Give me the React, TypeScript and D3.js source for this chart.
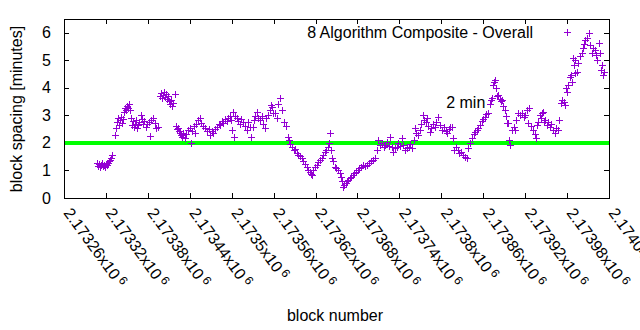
import React from 'react';
import * as d3 from 'd3';

const blockNumbers = [
  2173307,2173309,2173310,2173312,2173313,2173314,2173316,2173317,2173319,2173320,
  2173322,2173323,2173324,2173326,2173327,2173329,2173333,2173334,2173336,2173337,
  2173339,2173340,2173342,2173343,2173344,2173346,2173347,2173349,2173350,2173352,
  2173353,2173354,2173356,2173357,2173359,2173360,2173362,2173363,2173364,2173366,
  2173367,2173370,2173372,2173373,2173374,2173377,2173379,2173382,2173383,2173384,
  2173387,2173390,2173392,2173395,2173397,2173399,2173400,2173402,2173403,2173405,
  2173406,2173407,2173409,2173410,2173412,2173413,2173415,2173416,2173419,2173420,
  2173422,2173423,2173425,2173426,2173427,2173429,2173430,2173433,2173435,2173437,
  2173440,2173442,2173443,2173446,2173447,2173449,2173452,2173455,2173456,2173459,
  2173462,2173465,2173467,2173469,2173472,2173473,2173476,2173479,2173482,2173483,
  2173486,2173488,2173490,2173493,2173495,2173498,2173499,2173502,2173501,2173503,
  2173505,2173508,2173509,2173512,2173513,2173516,2173519,2173522,2173523,2173526,
  2173528,2173530,2173532,2173533,2173536,2173538,2173540,2173543,2173545,2173548,
  2173549,2173552,2173555,2173556,2173558,2173559,2173562,2173565,2173566,2173569,
  2173572,2173575,2173578,2173581,2173582,2173583,2173586,2173589,2173591,2173593,
  2173595,2173598,2173601,2173602,2173605,2173608,2173609,2173612,2173613,2173615,
  2173616,2173619,2173622,2173623,2173626,2173629,2173631,2173633,2173635,2173638,
  2173639,2173641,2173642,2173643,2173645,2173648,2173649,2173652,2173655,2173656,
  2173658,2173659,2173661,2173664,2173665,2173666,2173669,2173671,2173674,2173675,
  2173678,2173681,2173682,2173685,2173688,2173691,2173694,2173696,2173699,2173702,
  2173705,2173708,2173709,2173712,2173715,2173718,2173719,2173722,2173725,2173727,
  2173729,2173731,2173734,2173737,2173738,2173741,2173744,2173745,2173748,2173751,
  2173754,2173755,2173758,2173761,2173762,2173764,2173767,2173769,2173771,2173774,
  2173775,2173778,2173779,2173781,2173784,2173785,2173788,2173791,2173792,2173795,
  2173798,2173801,2173804,2173807,2173808,2173811,2173812,2173815,2173817,2173818,
  2173821,2173824,2173825,2173828,2173831,2173834,2173837,2173838,2173841,2173844,
  2173847,2173848,2173851,2173852,2173855,2173858,2173860,2173862,2173864,2173867,
  2173870,2173871,2173872,2173874,2173875,2173877,2173878,2173880,2173881,2173884,
  2173885,2173887,2173888,2173891,2173892,2173894,2173895,2173897,2173898,2173901,
  2173904,2173905,2173907,2173910,2173913,2173915,2173918,2173920,2173923,2173924,
  2173925,2173928,2173931,2173934,2173935,2173937,2173938,2173941,2173943,2173944,
  2173945,2173947,2173948,2173951,2173953,2173955,2173957,2173960,2173963,2173964,
  2173967,2173968,2173971,2173973,2173976,2173977,2173978,2173980,2173981,2173984,
  2173986,2173987,2173988,2173990,2173991,2173992,2173994,2173996,2173998,2174001,
  2174003,2174004,2174006,2174008,2174011,2174013,2174016,2174017,2174020,2174021,
  2174023,2174026,2174027,2174028,2174030,2174031,2174033,
];

const blockSpacing = [
  1.27,1.16,1.24,1.13,1.20,1.27,1.16,1.20,1.13,1.24,
  1.20,1.27,1.35,1.38,1.45,1.56,2.29,2.55,2.76,2.91,
  2.65,2.84,2.95,2.73,2.87,3.13,3.27,3.20,3.35,3.27,
  3.42,3.20,2.91,2.65,2.80,2.58,2.69,2.84,2.55,2.65,
  2.76,3.02,2.87,2.69,2.80,2.58,2.69,2.76,2.25,2.84,
  2.91,2.73,2.55,2.58,3.71,3.82,3.64,3.75,3.85,3.67,
  3.78,3.60,3.71,3.53,3.42,3.56,3.35,3.45,3.78,2.62,
  2.51,2.55,2.44,2.36,2.29,2.22,2.36,2.18,2.33,2.47,
  2.55,2.00,2.44,2.62,2.36,2.69,2.84,2.91,2.73,2.62,
  2.55,2.44,2.51,2.29,2.44,2.36,2.51,2.58,2.69,2.65,
  2.80,2.73,2.87,2.80,2.91,2.98,2.84,3.13,2.47,2.22,
  2.98,2.91,2.80,2.69,2.87,2.76,2.62,2.47,2.76,2.58,
  2.22,2.58,2.84,2.98,3.13,2.91,2.84,2.98,2.69,2.55,
  2.91,3.02,3.20,3.38,3.31,3.09,3.09,2.91,3.42,3.64,
  3.20,2.76,2.62,2.22,2.11,1.96,1.85,1.75,1.78,1.64,
  1.56,1.53,1.45,1.35,1.24,1.13,1.02,0.95,0.87,0.84,
  1.02,1.13,1.20,1.31,1.38,1.45,1.56,1.67,1.75,1.85,
  2.00,2.36,1.75,1.45,1.35,1.13,1.09,1.02,0.91,0.76,
  0.62,0.40,0.47,0.55,0.62,0.65,0.73,0.76,0.84,0.91,
  0.95,1.02,1.09,1.13,1.20,1.16,1.20,1.27,1.35,1.38,
  1.45,1.75,2.11,1.93,2.00,1.85,1.93,2.04,1.89,2.22,
  1.85,1.67,1.82,1.85,2.00,1.89,2.18,1.93,1.75,1.82,
  1.85,1.96,1.82,2.11,2.55,2.36,2.29,2.47,2.69,3.02,
  2.84,2.76,2.91,2.62,2.40,2.55,2.69,2.58,2.76,2.95,
  2.65,2.47,2.58,2.44,2.36,2.51,2.58,2.58,2.18,1.75,
  1.85,1.75,1.64,1.67,1.56,1.49,1.45,1.82,2.00,2.18,
  2.33,2.40,2.47,2.55,2.65,2.80,2.87,2.95,3.05,3.09,
  3.42,3.56,3.64,4.11,4.22,4.29,4.00,3.71,3.75,3.60,
  3.53,3.56,3.35,3.20,2.98,2.73,2.73,2.11,1.93,2.47,
  2.58,2.47,2.84,3.09,3.02,3.09,2.95,3.02,3.20,2.73,
  3.27,2.62,2.47,2.33,2.18,2.65,2.76,3.02,2.91,3.09,
  3.13,2.76,2.84,2.65,2.76,2.58,2.69,2.47,2.36,2.55,
  2.47,2.84,3.45,3.56,3.49,3.38,4.00,3.85,4.11,4.40,
  4.47,4.22,5.09,4.84,4.55,5.02,4.58,4.91,5.16,5.27,
  5.45,5.60,5.75,5.82,6.00,5.56,5.27,5.45,5.38,5.20,
  5.02,5.64,5.27,4.65,4.84,4.47,4.58,
];

const xTickValues = [
  2173260, 2173320, 2173380, 2173440, 2173500, 2173560, 2173620,
  2173680, 2173740, 2173800, 2173860, 2173920, 2173980, 2174040,
];
const yTickValues = [0, 1, 2, 3, 4, 5, 6];
const xDomain = [2173260, 2174040];
const yDomain = [0, 6.5];
const targetMinutes = 2;
const targetLabel = '2 min';
const targetLabelAt = [2173807, 3.5];
const seriesName = '8 Algorithm Composite - Overall';
const xTitle = 'block number';
const yTitle = 'block spacing [minutes]';

const W = 640;
const H = 330;
const plot = { left: 64, right: 609, top: 19, bottom: 198 };
const PURPLE = '#9400d3';
const FONT = "'Liberation Sans', Arial, Helvetica, sans-serif";

export default function App() {
  const x = d3.scaleLinear().domain(xDomain).range([plot.left, plot.right]);
  const y = d3.scaleLinear().domain(yDomain).range([plot.bottom, plot.top]);
  const plus = 'M-3.5,0H3.5M0,-3.5V3.5';
  const crisp = (v: number) => Math.round(v) + 0.5;
  const tickLen = 5;

  return (
    <svg
      width={W}
      height={H}
      style={{ position: 'absolute', left: 0, top: 0, background: '#fff' }}
      fontFamily={FONT}
    >
      <rect x={0} y={0} width={W} height={H} fill="#fff" />
      {yTickValues.map((t) => {
        const yy = crisp(y(t));
        return (
          <g key={'y' + t}>
            <line x1={plot.left} x2={plot.left + tickLen} y1={yy} y2={yy} stroke="#000" />
            <line x1={plot.right - tickLen} x2={plot.right} y1={yy} y2={yy} stroke="#000" />
            <text x={51} y={y(t) + 5.5} fontSize={16} textAnchor="end" fill="#000">
              {t}
            </text>
          </g>
        );
      })}
      {xTickValues.map((t) => {
        const xx = crisp(x(t));
        const mant = String(+(t / 1e6).toFixed(6));
        return (
          <g key={'x' + t}>
            <line x1={xx} x2={xx} y1={plot.bottom} y2={plot.bottom - tickLen} stroke="#000" />
            <line x1={xx} x2={xx} y1={plot.top} y2={plot.top + tickLen} stroke="#000" />
            <text
              transform={`translate(${x(t) - 1},${213}) rotate(54)`}
              fontSize={16}
              fill="#000"
            >
              {mant + 'x10'}
              <tspan dx={3} dy={-5} fontSize={12}>6</tspan>
            </text>
          </g>
        );
      })}
      <line
        x1={plot.left}
        x2={plot.right}
        y1={y(targetMinutes)}
        y2={y(targetMinutes)}
        stroke="#00ff00"
        strokeWidth={4}
      />
      <g stroke={PURPLE} strokeWidth={1} fill="none">
        {blockNumbers.map((b, i) => (
          <path
            key={i}
            d={plus}
            transform={`translate(${crisp(x(b))},${crisp(y(blockSpacing[i]))})`}
          />
        ))}
      </g>
      <text
        x={x(targetLabelAt[0])}
        y={y(targetLabelAt[1]) + 6}
        fontSize={16}
        fill="#000"
      >
        {targetLabel}
      </text>
      <text x={533} y={38} fontSize={16} textAnchor="end" fill="#000">
        {seriesName}
      </text>
      <path d={plus} transform="translate(567.5,32.5)" stroke={PURPLE} strokeWidth={1} />
      <rect
        x={plot.left + 0.5}
        y={plot.top + 0.5}
        width={plot.right - plot.left}
        height={plot.bottom - plot.top}
        fill="none"
        stroke="#000"
        strokeWidth={1}
      />
      <text
        transform={`translate(22,109) rotate(-90)`}
        fontSize={16}
        textAnchor="middle"
        fill="#000"
      >
        {yTitle}
      </text>
      <text x={335} y={321} fontSize={16} textAnchor="middle" fill="#000">
        {xTitle}
      </text>
    </svg>
  );
}
